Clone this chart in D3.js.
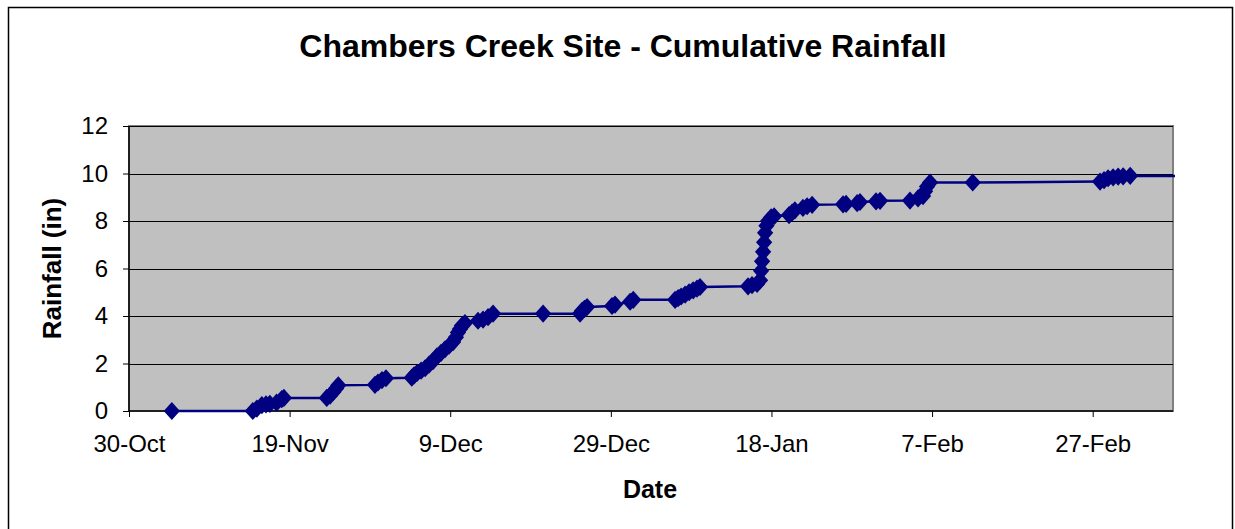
<!DOCTYPE html>
<html>
<head>
<meta charset="utf-8">
<script src="https://cdn.jsdelivr.net/npm/d3@7"></script>
<style>
	body { margin: 0; background: #fff; }
	svg { display: block; font-family: "Liberation Sans", Arial, sans-serif; }
</style>
</head>
<body>
<svg id="chart" width="1235" height="529"></svg>
<script>
/* global d3 */

// reading times (2006/07 season) and cumulative rainfall, inches
const readingTimes = [
	'2006-11-04 08:00', '2006-11-14 10:00', '2006-11-14 22:00', '2006-11-15 13:00', '2006-11-16 01:30',
	'2006-11-16 13:00', '2006-11-17 09:00', '2006-11-18 00:30', '2006-11-18 07:00', '2006-11-23 15:00',
	'2006-11-24 01:00', '2006-11-24 10:30', '2006-11-24 19:00', '2006-11-25 01:30', '2006-11-29 15:00',
	'2006-11-30 00:00', '2006-11-30 12:00', '2006-12-01 00:00', '2006-12-04 05:00', '2006-12-04 12:00',
	'2006-12-04 21:00', '2006-12-05 09:00', '2006-12-05 21:00', '2006-12-06 08:30', '2006-12-06 20:30',
	'2006-12-07 08:30', '2006-12-07 20:30', '2006-12-08 08:30', '2006-12-08 20:30', '2006-12-09 08:30',
	'2006-12-09 17:00', '2006-12-09 23:00', '2006-12-10 05:00', '2006-12-10 11:00', '2006-12-10 20:00',
	'2006-12-12 11:00', '2006-12-13 02:00', '2006-12-13 17:00', '2006-12-14 08:00', '2006-12-20 13:30',
	'2006-12-25 04:00', '2006-12-25 10:00', '2006-12-25 17:00', '2006-12-26 01:00', '2006-12-29 03:30',
	'2006-12-29 12:30', '2006-12-31 09:30', '2006-12-31 19:00', '2007-01-06 00:00', '2007-01-06 09:00',
	'2007-01-06 18:00', '2007-01-07 06:00', '2007-01-07 18:00', '2007-01-08 06:00', '2007-01-08 17:30',
	'2007-01-09 02:30', '2007-01-15 02:00', '2007-01-15 14:00', '2007-01-16 05:00', '2007-01-16 14:00',
	'2007-01-16 17:00', '2007-01-16 20:00', '2007-01-16 23:00', '2007-01-17 02:00', '2007-01-17 05:00',
	'2007-01-17 09:00', '2007-01-17 14:00', '2007-01-17 23:00', '2007-01-18 08:00', '2007-01-20 04:30',
	'2007-01-20 13:30', '2007-01-20 22:00', '2007-01-21 22:00', '2007-01-22 10:30', '2007-01-23 01:30',
	'2007-01-26 22:00', '2007-01-27 07:00', '2007-01-28 16:00', '2007-01-29 00:30', '2007-01-31 00:30',
	'2007-01-31 12:30', '2007-02-04 06:00', '2007-02-05 06:00', '2007-02-05 21:00', '2007-02-06 03:00',
	'2007-02-06 09:00', '2007-02-06 18:00', '2007-02-12 01:30', '2007-02-27 22:00', '2007-02-28 10:00',
	'2007-02-28 22:00', '2007-03-01 13:00', '2007-03-02 04:00', '2007-03-02 19:00', '2007-03-03 16:00',
	'2007-03-12 00:00',
];
const rainfall = [
	0, 0, 0.1, 0.25, 0.28,
	0.3, 0.35, 0.5, 0.55, 0.55,
	0.65, 0.8, 0.95, 1.08, 1.1,
	1.2, 1.3, 1.38, 1.4, 1.5,
	1.6, 1.7, 1.8, 1.95, 2.1,
	2.3, 2.45, 2.6, 2.75, 2.9,
	3.1, 3.3, 3.45, 3.6, 3.7,
	3.8, 3.85, 3.95, 4.1, 4.1,
	4.1, 4.22, 4.3, 4.38, 4.42,
	4.48, 4.6, 4.68, 4.68, 4.75,
	4.82, 4.9, 5.0, 5.08, 5.15,
	5.22, 5.25, 5.3, 5.35, 5.5,
	5.9, 6.3, 6.7, 7.1, 7.5,
	7.8, 8.0, 8.15, 8.2, 8.25,
	8.35, 8.45, 8.55, 8.62, 8.68,
	8.7, 8.72, 8.75, 8.8, 8.83,
	8.85, 8.86, 8.95, 9.05, 9.25,
	9.45, 9.62, 9.62, 9.66, 9.72,
	9.8, 9.84, 9.87, 9.88, 9.9,
	9.9,
];
const xTickLabels = ['30-Oct', '19-Nov', '9-Dec', '29-Dec', '18-Jan', '7-Feb', '27-Feb'];
const yTicks = [0, 2, 4, 6, 8, 10, 12];

const parseTime = d3.timeParse('%Y-%m-%d %H:%M');
const parseTick = d3.timeParse('%d-%b-%Y');
const data = readingTimes.map((t, i) => ({date: parseTime(t), value: rainfall[i]}));

const svg = d3.select('#chart');

const plot = {left: 129, right: 1173, top: 126, bottom: 411};

// chart area border
svg.append('rect')
	.attr('x', 8.5)
	.attr('y', 7.5)
	.attr('width', 1224)
	.attr('height', 540)
	.attr('fill', '#fff')
	.attr('stroke', '#000')
	.attr('stroke-width', 1.5);

const x = d3.scaleTime()
	.domain([parseTime('2006-10-30 00:00'), parseTime('2007-03-09 00:00')])
	.range([plot.left, plot.right]);

const y = d3.scaleLinear()
	.domain([0, 12])
	.range([plot.bottom, plot.top]);

// plot area
svg.append('rect')
	.attr('x', plot.left)
	.attr('y', plot.top)
	.attr('width', plot.right - plot.left)
	.attr('height', plot.bottom - plot.top)
	.attr('fill', '#c0c0c0')
	.attr('stroke', '#808080')
	.attr('stroke-width', 2);

// gridlines
svg.append('g')
	.selectAll('line')
	.data(yTicks.filter(d => d > 0))
	.enter().append('line')
	.attr('x1', plot.left)
	.attr('x2', plot.right)
	.attr('y1', d => Math.round(y(d)) + 0.5)
	.attr('y2', d => Math.round(y(d)) + 0.5)
	.attr('stroke', '#000')
	.attr('stroke-width', 1);

const xTickDates = xTickLabels.map(l => {
	const yr = /Oct|Nov|Dec/.test(l) ? '2006' : '2007';
	return parseTick(`${l}-${yr}`);
});

const xAxis = d3.axisBottom(x)
	.tickValues(xTickDates)
	.tickFormat((d, i) => xTickLabels[i])
	.tickSize(6)
	.tickPadding(18);

const yAxis = d3.axisLeft(y)
	.tickValues(yTicks)
	.tickSize(6)
	.tickPadding(15);

const gx = svg.append('g')
	.attr('transform', `translate(0,${plot.bottom})`)
	.call(xAxis);

const gy = svg.append('g')
	.attr('transform', `translate(${plot.left},0)`)
	.call(yAxis);

[gx, gy].forEach(g => {
	g.select('.domain').attr('stroke', '#000').attr('stroke-width', 1.5);
	g.selectAll('.tick line').attr('stroke', '#000');
	g.selectAll('.tick text')
		.attr('fill', '#000')
		.style('font-size', '24px')
		.style('font-family', '"Liberation Sans", Arial, sans-serif');
});
gx.select('.domain').attr('d', `M${plot.left},0H${plot.right}`);
gy.select('.domain').attr('d', `M0,${plot.bottom}V${plot.top}`);

// clip for the series
svg.append('clipPath')
	.attr('id', 'plot-clip')
	.append('rect')
	.attr('x', plot.left)
	.attr('y', plot.top - 10)
	.attr('width', plot.right - plot.left + 2)
	.attr('height', plot.bottom - plot.top + 20);

const series = svg.append('g').attr('clip-path', 'url(#plot-clip)');

const line = d3.line()
	.x(d => x(d.date))
	.y(d => y(d.value));

series.append('path')
	.datum(data)
	.attr('d', line)
	.attr('fill', 'none')
	.attr('stroke', '#000080')
	.attr('stroke-width', 2.5);

const marker = d3.symbol().type(d3.symbolSquare).size(132);

series.selectAll('.marker')
	.data(data)
	.enter().append('path')
	.attr('class', 'marker')
	.attr('d', marker)
	.attr('transform', d => `translate(${x(d.date)},${y(d.value)}) scale(1,1.12) rotate(45)`)
	.attr('fill', '#000080');

// titles
svg.append('text')
	.attr('x', 623)
	.attr('y', 57)
	.attr('text-anchor', 'middle')
	.style('font-size', '32px')
	.style('font-weight', 'bold')
	.text('Chambers Creek Site - Cumulative Rainfall');

svg.append('text')
	.attr('x', 650)
	.attr('y', 498)
	.attr('text-anchor', 'middle')
	.style('font-size', '25px')
	.style('font-weight', 'bold')
	.text('Date');

svg.append('text')
	.attr('transform', `translate(61,${(plot.top + plot.bottom) / 2}) rotate(-90)`)
	.attr('text-anchor', 'middle')
	.style('font-size', '26px')
	.style('font-weight', 'bold')
	.text('Rainfall (in)');
</script>
</body>
</html>
